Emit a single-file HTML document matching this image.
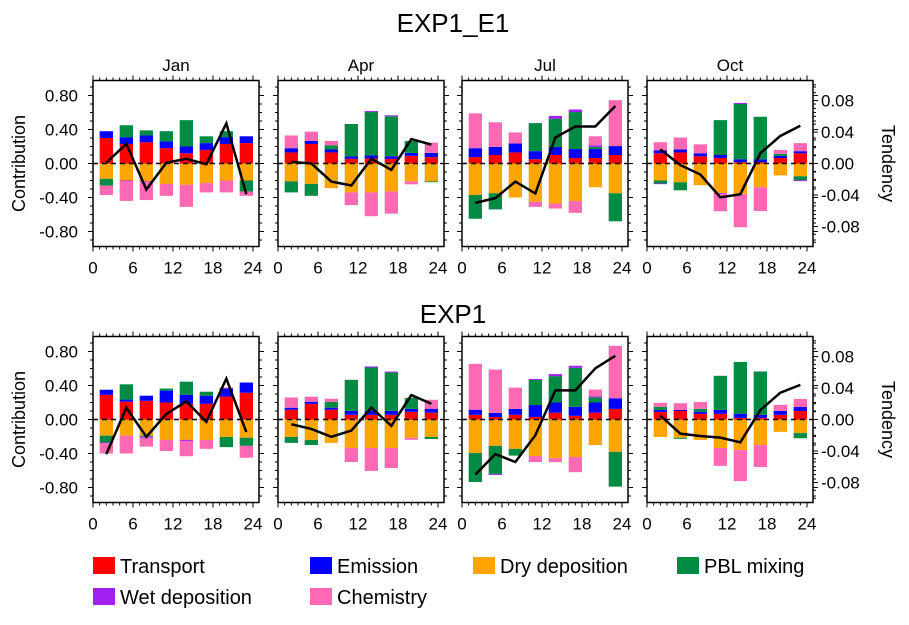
<!DOCTYPE html>
<html><head><meta charset="utf-8"><style>
body{margin:0;background:#fff;}
svg text{font-family:"Liberation Sans",sans-serif;fill:#000;}
</style></head><body>
<svg id="chart" width="909" height="620" xmlns="http://www.w3.org/2000/svg">
<text x="453" y="32" font-size="26" text-anchor="middle">EXP1_E1</text>
<text x="453" y="323" font-size="26" text-anchor="middle">EXP1</text>
<g id="panels"></g>
<g id="legend"></g>
</svg>
<script>
const months = ["Jan","Apr","Jul","Oct","Jan","Apr","Jul","Oct"];
const hours = [2,5,8,11,14,17,20,23];
const xTicks = [0,6,12,18,24];
const yTicks = [0.8,0.4,0,-0.4,-0.8];
const yTickLabels = ["0.80","0.40","0.00","-0.40","-0.80"];
const rTicks = [0.08,0.04,0,-0.04,-0.08];
const rTickLabels = ["0.08","0.04","0.00","-0.04","-0.08"];
const transport = [
 [.30,.23,.25,.18,.12,.16,.23,.24],
 [.13,.23,.13,.055,.06,.055,.09,.075],
 [.075,.10,.13,.05,.10,.065,.065,.10],
 [.12,.13,.085,.065,.015,.015,.065,.12],
 [.29,.21,.22,.20,.185,.185,.27,.315],
 [.115,.185,.115,.055,.055,.055,.09,.08],
 [.055,.03,.055,.03,.08,.043,.08,.125],
 [.09,.10,.067,.067,.02,.02,.055,.10]];
const emission = [
 [.08,.08,.08,.08,.08,.08,.08,.08],
 [.05,.035,.035,.03,.035,.03,.035,.05],
 [.105,.095,.105,.095,.095,.105,.105,.105],
 [.035,.035,.035,.035,.035,.035,.025,.025],
 [.06,.024,.06,.14,.105,.095,.095,.12],
 [.024,.024,.024,.047,.047,.047,.035,.047],
 [.06,.047,.07,.14,.12,.105,.12,.12],
 [.024,.012,.024,.047,.047,.035,.047,.047]];
const dryDep = [
 [-.18,-.20,-.21,-.24,-.25,-.23,-.20,-.20],
 [-.21,-.24,-.29,-.34,-.34,-.33,-.21,-.21],
 [-.37,-.35,-.40,-.45,-.47,-.44,-.28,-.35],
 [-.20,-.22,-.255,-.35,-.36,-.28,-.14,-.15],
 [-.19,-.19,-.19,-.24,-.24,-.24,-.205,-.215],
 [-.205,-.24,-.275,-.335,-.335,-.335,-.215,-.205],
 [-.395,-.31,-.345,-.43,-.455,-.44,-.30,-.38],
 [-.205,-.215,-.24,-.335,-.36,-.30,-.145,-.16]];
const pbl = [
 [-.08,.14,.06,.12,.31,.08,.07,-.13],
 [-.13,-.14,.05,.38,.51,.47,.14,-.01],
 [-.28,-.19,0,.33,.33,.435,.025,-.33],
 [-.035,-.095,0,.41,.65,.50,.025,-.045],
 [-.08,.18,-.012,.024,.155,.047,-.12,-.095],
 [-.07,-.06,.07,.365,.51,.45,.13,-.024],
 [-.34,-.33,-.08,.295,.31,.46,.06,-.41],
 [.035,-.012,.035,.40,.61,.51,0,-.06]];
const wetDep = [
 [0,-.01,-.01,0,0,0,0,0],
 [0,0,0,0,.012,.012,0,0],
 [0,0,0,0,.035,.03,.02,0],
 [-.008,0,0,-.012,.012,0,0,-.012],
 [-.01,0,-.012,0,-.012,0,0,0],
 [0,0,0,0,.012,.012,0,0],
 [0,-.012,0,.012,.024,.024,.012,.012],
 [0,0,0,0,0,0,0,0]];
const chemistry = [
 [-.11,-.23,-.21,-.14,-.26,-.11,-.14,-.05],
 [.15,.11,.05,-.15,-.28,-.26,-.035,.12],
 [.41,.29,.13,-.06,-.06,-.14,.105,.54],
 [.095,.14,.105,-.20,-.39,-.28,.045,.095],
 [-.12,-.21,-.105,-.13,-.18,-.105,.012,-.14],
 [.12,.06,.035,-.165,-.27,-.235,-.024,.105],
 [.54,.51,.25,-.07,-.047,-.18,.08,.61],
 [.047,.08,.08,-.21,-.365,-.26,.07,.095]];
const tendency = [
 [.001,.025,-.033,.001,.006,-.001,.051,-.039],
 [.002,0,-.023,-.028,.006,-.008,.031,.024],
 [-.050,-.044,-.023,-.038,.033,.047,.047,.073],
 [.018,-.002,-.014,-.043,-.039,.013,.035,.048],
 [-.044,.015,-.022,.007,.023,-.003,.052,-.016],
 [-.006,-.012,-.022,-.014,.015,-.008,.031,.020],
 [-.070,-.044,-.054,-.020,.037,.037,.065,.081],
 [.005,-.018,-.021,-.023,-.029,.012,.034,.044]];
const seriesNames = ["Transport","Emission","Dry deposition","PBL mixing","Wet deposition","Chemistry"];
const seriesColors = ["#ff0000","#0000ff","#ffa500","#008b45","#a020f0","#ff69b4"];
const seriesData = [transport,emission,dryDep,pbl,wetDep,chemistry];

const NS="http://www.w3.org/2000/svg";
function mk(tag,attrs,parent){const e=document.createElementNS(NS,tag);for(const k in attrs)e.setAttribute(k,attrs[k]);parent.appendChild(e);return e;}
const lefts=[93,278,462,647], tops=[80.5,336.5], W=166, H=166, pxH=166/24.9, pxU=85, pxT=787;
const root=document.getElementById('panels');
for(let p=0;p<8;p++){
  const col=p%4,row=Math.floor(p/4);
  const L=lefts[col],T=tops[row],zero=T+83;
  const X=h=>L+h*pxH, Y=v=>zero-v*pxU, YT=v=>zero-v*pxT;
  const g=mk('g',{},root);
  
  
  if(row===0){const t=mk('text',{x:L+W/2,y:71,'font-size':17,'text-anchor':'middle'},g);t.textContent=months[p];
    }
  for(let i=0;i<hours.length;i++){
    let pos=0,neg=0;
    for(let s=0;s<6;s++){
      const v=seriesData[s][p][i]; if(!v) continue;
      let y0,y1;
      if(v>0){y0=pos;y1=pos+v;pos=y1;}else{y0=neg;y1=neg+v;neg=y1;}
      const r=mk('rect',{x:X(hours[i]-1),width:2*pxH,y:Math.min(Y(y0),Y(y1)),height:Math.abs(Y(y0)-Y(y1)),fill:seriesColors[s]},g);
      
      
    }
  }
  const z=mk('line',{x1:L,x2:L+W,y1:zero,y2:zero,stroke:'#000','stroke-width':1.5,'stroke-dasharray':'5,4'},g);
  
  const pl=mk('polyline',{points:hours.map((h,i)=>X(h)+','+YT(tendency[p][i])).join(' '),fill:'none',stroke:'#000','stroke-width':2.5},g);
  
  const fr=mk('rect',{x:L,y:T,width:W,height:H,fill:'none',stroke:'#000','stroke-width':1.5},g);
  
  for(let h=0;h<=24;h++){const big=h%6===0,len=big?5:3;
    mk('line',{x1:X(h),x2:X(h),y1:T+H,y2:T+H+len,stroke:'#000','stroke-width':1},g);
    mk('line',{x1:X(h),x2:X(h),y1:T,y2:T-len,stroke:'#000','stroke-width':1},g);}
  xTicks.forEach(h=>{const t=mk('text',{x:X(h),y:T+H+27,'font-size':17,'text-anchor':'middle'},g);t.textContent=h;
    });
  for(let k=-9;k<=9;k++){const v=k/10,big=k%4===0,len=big?5:3;
    mk('line',{x1:L,x2:L-len,y1:Y(v),y2:Y(v),stroke:'#000','stroke-width':1},g);
    mk('line',{x1:L+W,x2:L+W+len,y1:Y(v),y2:Y(v),stroke:'#000','stroke-width':1},g);}
  if(col===0){
    yTicks.forEach((v,i)=>{const t=mk('text',{x:78,y:Y(v)+6,'font-size':17,'text-anchor':'end'},g);t.textContent=yTickLabels[i];
      });
    const t=mk('text',{x:0,y:0,'font-size':18,'text-anchor':'middle',transform:`translate(25,${zero}) rotate(-90)`},g);t.textContent='Contribution';
    
  }
  if(col===3){
    for(let k=-10;k<=10;k++){const v=k/100,big=k%4===0,len=big?5:3;
      mk('line',{x1:L+W,x2:L+W+len,y1:YT(v),y2:YT(v),stroke:'#000','stroke-width':1},g);}
    rTicks.forEach((v,i)=>{const t=mk('text',{x:L+W+8,y:YT(v)+6,'font-size':17,'text-anchor':'start'},g);t.textContent=rTickLabels[i];
      });
    const t=mk('text',{x:0,y:0,'font-size':18,'text-anchor':'middle',transform:`translate(882,${zero}) rotate(90)`},g);t.textContent='Tendency';
    
  }
}
const leg=document.getElementById('legend');
const lx=[93,310,473,677,93,310];
seriesNames.forEach((n,s)=>{
  const x=lx[s], y=s<4?566:597;
  const g=mk('g',{},leg);
  
  
  mk('rect',{x:x,y:y-9,width:22,height:17,fill:seriesColors[s]},g);
  const t=mk('text',{x:x+27,y:y+7,'font-size':20},g);t.textContent=n;
});
</script>
</body></html>
